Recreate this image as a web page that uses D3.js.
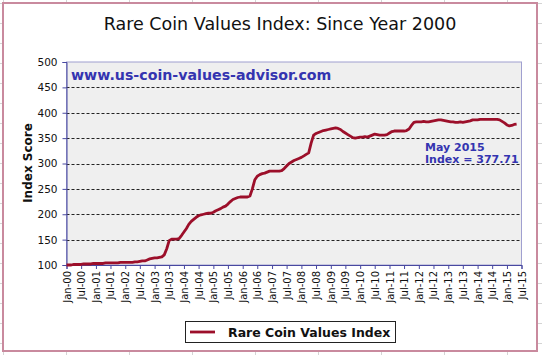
<!DOCTYPE html>
<html><head><meta charset="utf-8">
<script src="https://cdn.jsdelivr.net/npm/d3@7"></script>
<style>html,body{margin:0;padding:0;background:#fff;}svg{display:block;}</style>
</head><body>
<svg id="c" width="542" height="355"></svg>
<script>
// ---- data ----
const startYear = 2000;
const seriesName = "Rare Coin Values Index";
const values = [
 100,100,100,101,101,101,101,102,102,102,102,103,
 103,103,103,103,104,104,104,104,104,104,105,105,
 105,105,105,105,106,106,107,108,108,110,112,113,
 114,114,115,116,120,132,148,151,151,151,152,158,
 165,172,180,186,190,194,197,199,200,201,202,202,
 204,207,209,211,214,216,220,225,229,231,233,234,
 234,234,234,236,250,268,275,278,280,281,283,285,
 285,285,285,285,286,290,295,300,303,306,308,310,
 312,315,318,321,340,356,359,361,363,365,366,367,
 368,369,370,369,367,363,360,357,354,351,350,351,
 352,352,353,352,354,356,358,357,356,356,356,357,
 360,363,364,364,364,364,364,365,368,375,381,382,
 382,382,383,382,382,383,384,385,386,386,385,384,
 383,382,382,381,381,382,381,382,383,384,386,386,
 386,387,387,387,387,387,387,387,387,386,383,380,
 376,374,375,377,377.71
];
const yTicks = [100,150,200,250,300,350,400,450,500];
const title = "Rare Coin Values Index: Since Year 2000";
const yTitle = "Index Score";
const watermark = "www.us-coin-values-advisor.com";
const noteLines = ["May 2015", "Index = 377.71"];

const data = values.map((v,i)=>({date:new Date(startYear, i, 1), value:v}));

const svg = d3.select("#c");
const W=542, H=355;
const pL=66.5, pR=521.5, pT=62, pB=265;

// faint spreadsheet cell lines outside the chart frame
const bg = svg.append("g").attr("stroke","#d4d4d4").attr("stroke-width",1);
for (let x=3.5; x<W; x+=63) bg.append("line").attr("x1",x).attr("x2",x).attr("y1",0).attr("y2",H);
for (let y=3.5; y<H; y+=20) bg.append("line").attr("x1",0).attr("x2",W).attr("y1",y).attr("y2",y);
svg.append("rect").attr("x",3).attr("y",3).attr("width",534).attr("height",348)
  .attr("fill","#fff").attr("stroke","#c98a9e").attr("stroke-width",2);

const x = d3.scaleTime().domain([new Date(2000,0,1), new Date(2015,6,1)]).range([pL,pR]);
const y = d3.scaleLinear().domain([100,500]).range([pB,pT]);

// plot area
svg.append("rect").attr("x",pL).attr("y",pT).attr("width",pR-pL).attr("height",pB-pT)
  .attr("fill","#efefef").attr("stroke","#a0a0d0").attr("stroke-width",1);

// gridlines
svg.append("g").selectAll("line").data(yTicks.filter(t=>t>100 && t<500)).join("line")
  .attr("x1",pL).attr("x2",pR).attr("y1",d=>Math.round(y(d))+0.5).attr("y2",d=>Math.round(y(d))+0.5)
  .attr("stroke","#222").attr("stroke-width",1).attr("stroke-dasharray","3,2");

// y axis
const yAxis = svg.append("g").attr("transform",`translate(${pL},0)`)
  .call(d3.axisLeft(y).tickValues(yTicks).tickSize(4).tickPadding(5));
yAxis.select(".domain").attr("stroke","#4848a0");
yAxis.selectAll(".tick line").attr("stroke","#4848a0");
yAxis.selectAll("text").attr("font-family","DejaVu Sans").attr("font-size","10.5px").attr("fill","#111");

// x axis
const xAxis = svg.append("g").attr("transform",`translate(0,${pB})`)
  .call(d3.axisBottom(x).ticks(d3.timeMonth.every(6)).tickFormat(d3.timeFormat("%b-%y")).tickSize(4).tickPadding(3));
xAxis.select(".domain").attr("stroke","#4848a0");
xAxis.selectAll(".tick line").attr("stroke","#4848a0");
xAxis.selectAll("text").attr("font-family","DejaVu Sans").attr("font-size","10px").attr("fill","#111")
  .attr("transform","rotate(-90)").attr("text-anchor","end").attr("dx","-6px").attr("y",0).attr("x",0)
  .attr("dy","0.35em");

// line
const line = d3.line().x(d=>x(d.date)).y(d=>y(d.value));
svg.append("path").datum(data).attr("d",line).attr("fill","none")
  .attr("stroke","#9c0f2a").attr("stroke-width",2.8).attr("stroke-linejoin","round");

// texts
svg.append("text").attr("x",280).attr("y",30).attr("text-anchor","middle")
  .attr("font-family","DejaVu Sans").attr("font-size","17.5px").attr("fill","#111").text(title);
svg.append("text").attr("transform","translate(32,163) rotate(-90)").attr("text-anchor","middle")
  .attr("font-family","DejaVu Sans").attr("font-weight","bold").attr("font-size","12px").attr("fill","#111").text(yTitle);
svg.append("text").attr("x",71).attr("y",80)
  .attr("font-family","DejaVu Sans").attr("font-weight","bold").attr("font-size","14.2px").attr("fill","#3434b0").text(watermark);
svg.append("g").selectAll("text").data(noteLines).join("text")
  .attr("x",425).attr("y",(d,i)=>151+i*12)
  .attr("font-family","DejaVu Sans").attr("font-weight","bold").attr("font-size","11px").attr("fill","#3434b0").text(d=>d);

// legend
const lg = svg.append("g");
lg.append("rect").attr("x",185.5).attr("y",321.5).attr("width",210).attr("height",21)
  .attr("fill","#fff").attr("stroke","#222").attr("stroke-width",1);
lg.append("line").attr("x1",190).attr("x2",215).attr("y1",332).attr("y2",332)
  .attr("stroke","#9c0f2a").attr("stroke-width",2.8);
lg.append("text").attr("x",228).attr("y",336.5)
  .attr("font-family","DejaVu Sans").attr("font-weight","bold").attr("font-size","12.5px").attr("fill","#111").text(seriesName);
</script>
</body></html>
